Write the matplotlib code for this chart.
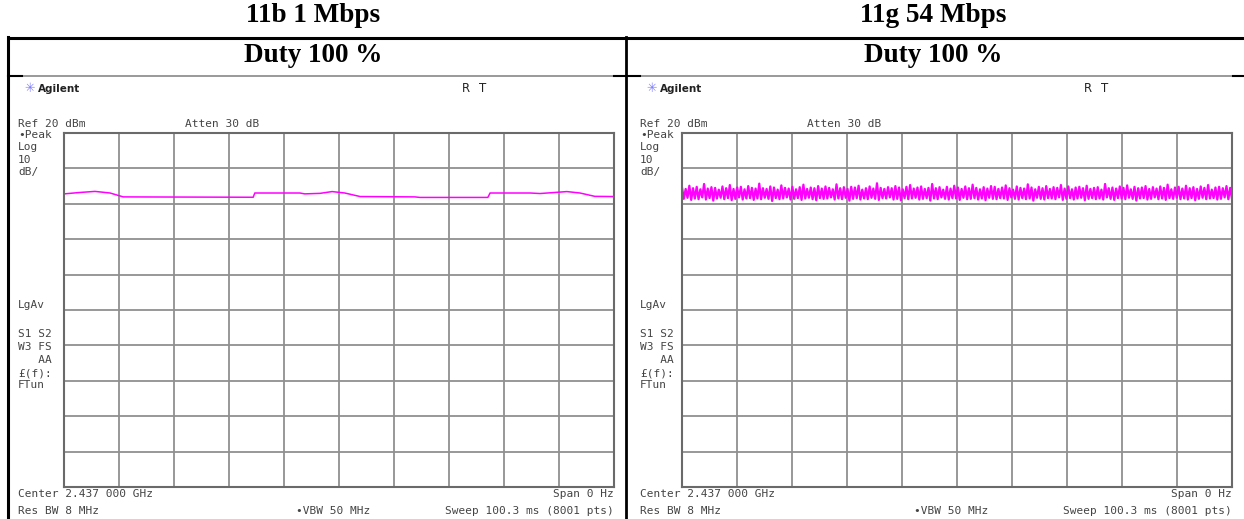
import matplotlib
matplotlib.use("Agg")
import matplotlib.pyplot as plt
import numpy as np

W, H = 1244, 519

# --- data (zero span, time domain) ---
SWEEP_MS = 100.3
REF_DBM = 20
DB_PER_DIV = 10

titles = ["11b 1 Mbps", "11g 54 Mbps"]
duty = ["Duty 100 %", "Duty 100 %"]

# 11b trace: piecewise level with a little hump after each step
b_time = [0, 2.9, 5.65, 8.4, 10.8, 34.5, 34.8, 43.0, 43.9, 46.7, 48.9, 51.2,
          54.0, 64.0, 64.9, 77.3, 77.7, 85.0, 86.8, 89.5, 91.7, 94.1, 96.8, 100.3]
b_level = [2.8, 3.2, 3.5, 3.05, 1.95, 1.85, 3.05, 3.05, 2.8, 2.95, 3.45, 3.05,
           2.05, 1.95, 1.8, 1.8, 3.05, 3.05, 2.9, 3.2, 3.45, 3.05, 2.1, 2.05]

# 11g trace: noisy band, peaks and troughs estimated along the sweep
g_peaks = [
    4.6, 4.2, 5.1, 4.4, 4.8, 4.1, 5.6, 4.3, 4.7, 4.5,
    4.0, 4.9, 4.4, 5.3, 4.2, 4.6, 4.8, 4.1, 5.0, 4.5,
    4.3, 5.7, 4.4, 4.2, 4.9, 4.6, 4.0, 5.2, 4.5, 4.3,
    4.8, 4.1, 4.7, 5.4, 4.2, 4.6, 4.4, 5.0, 4.3, 4.9,
    4.5, 4.1, 5.5, 4.4, 4.7, 4.2, 4.8, 4.6, 5.1, 4.0,
    4.4, 4.9, 4.3, 5.8, 4.5, 4.2, 4.7, 4.4, 5.0, 4.6,
    4.1, 4.8, 5.3, 4.3, 4.6, 4.9, 4.2, 4.5, 5.6, 4.4,
    4.7, 4.0, 4.8, 4.3, 5.1, 4.6, 4.2, 4.9, 4.4, 5.4,
    4.5, 4.1, 4.7, 4.3, 5.0, 4.8, 4.2, 4.6, 5.2, 4.4,
    4.0, 4.9, 4.5, 4.3, 5.5, 4.6, 4.1, 4.8, 4.4, 5.0,
    4.2, 4.7, 4.5, 5.3, 4.3, 4.9, 4.1, 4.6, 4.8, 4.4,
    5.1, 4.2, 4.5, 4.7, 4.0, 5.6, 4.4, 4.6, 4.3, 4.9,
    4.5, 5.2, 4.1, 4.8, 4.4, 4.6, 5.0, 4.2, 4.7, 4.3,
    4.9, 4.5, 5.4, 4.1, 4.6, 4.8, 4.3, 5.1, 4.4, 4.7,
    4.2, 4.9, 4.5, 5.3, 4.0, 4.6, 4.8, 4.4, 5.0, 4.5,
]
g_troughs = [
    1.4, 1.7, 1.1, 1.5, 1.3, 1.8, 1.2, 1.6, 0.9, 1.5,
    1.7, 1.3, 1.6, 1.0, 1.4, 1.8, 1.2, 1.5, 1.6, 1.1,
    1.5, 1.3, 1.7, 1.4, 0.8, 1.6, 1.3, 1.5, 1.8, 1.2,
    1.4, 1.6, 1.1, 1.5, 1.7, 1.3, 1.0, 1.6, 1.4, 1.5,
    1.8, 1.2, 1.5, 1.3, 1.7, 0.9, 1.4, 1.6, 1.2, 1.5,
    1.3, 1.7, 1.4, 1.1, 1.6, 1.5, 1.8, 1.2, 1.4, 1.0,
    1.6, 1.3, 1.5, 1.7, 1.2, 1.4, 1.6, 0.9, 1.5, 1.3,
    1.8, 1.4, 1.2, 1.6, 1.5, 1.1, 1.7, 1.3, 1.4, 1.6,
    1.2, 1.5, 1.0, 1.7, 1.4, 1.3, 1.6, 1.5, 1.1, 1.8,
    1.4, 1.2, 1.6, 1.3, 1.5, 0.9, 1.7, 1.4, 1.2, 1.6,
    1.5, 1.3, 1.8, 1.1, 1.4, 1.6, 1.2, 1.5, 1.7, 1.0,
    1.4, 1.6, 1.3, 1.5, 1.2, 1.8, 1.4, 1.1, 1.6, 1.5,
    1.3, 1.7, 1.4, 0.9, 1.5, 1.6, 1.2, 1.4, 1.8, 1.3,
    1.5, 1.1, 1.6, 1.4, 1.7, 1.3, 1.5, 1.2, 1.6, 1.0,
    1.4, 1.7, 1.3, 1.5, 1.6, 1.2, 1.4, 1.8, 1.3, 1.5,
]

# --- layout in pixels ---
PANEL_X = [0, 618]           # horizontal offset of each panel
GRID_L, GRID_R = 64, 614     # grid box of left panel
GRID_T, GRID_B = 133, 487
TXT = "#444444"
MONO = "DejaVu Sans Mono"

fig = plt.figure(figsize=(W / 100, H / 100), dpi=100)
base = fig.add_axes([0, 0, 1, 1])
base.set_xlim(0, W)
base.set_ylim(H, 0)
base.axis("off")

# table frame
base.plot([8, W], [37.5, 37.5], color="black", lw=2.2, solid_capstyle="butt")
base.plot([8, W], [75.5, 75.5], color="#888888", lw=1.2)
for x0, x1 in [(8, 22), (614, 640), (1233, W)]:
    base.plot([x0, x1], [75.5, 75.5], color="black", lw=1.5)
base.plot([8, 8], [36.5, H], color="black", lw=2.2)
base.plot([626, 626], [36.5, H], color="black", lw=2.0)


def label(x, y, s, **kw):
    opts = dict(fontsize=8, family=MONO, color=TXT, va="center", ha="left")
    opts.update(kw)
    base.text(x, y, s, **opts)


for i, ox in enumerate(PANEL_X):
    cx = 313 + i * 620
    base.text(cx, 15, titles[i], ha="center", va="center", fontsize=19.5,
              fontweight="bold", family="Liberation Serif", color="black")
    base.text(cx, 56, duty[i], ha="center", va="center", fontsize=19.5,
              fontweight="bold", family="Liberation Serif", color="black")

    tx = ox + 18 + i * 4
    gr = GRID_R + ox
    label(tx + 6, 89, "\u2733", family="DejaVu Sans", color="#8080ff", fontsize=9)
    label(tx + 20, 89, "Agilent", family="DejaVu Sans", fontweight="bold",
          color="#222222", fontsize=7.5)
    label(ox + 462 + i * 4, 89, "R", family="DejaVu Sans", color="#222222", fontsize=8.5)
    label(ox + 479 + i * 4, 89, "T", family="DejaVu Sans", color="#222222", fontsize=8.5)
    label(tx, 124, "Ref 20 dBm")
    label(tx + 167, 124, "Atten 30 dB")
    for y, s in [(135, "\u2022Peak"), (147, "Log"), (160, "10"), (172, "dB/"),
                 (305, "LgAv"), (334, "S1 S2"), (347, "W3 FS"), (360, "   AA"),
                 (373, "\u00a3(f):"), (385, "FTun")]:
        label(tx, y, s)
    label(tx, 494, "Center 2.437 000 GHz")
    label(gr, 494, "Span 0 Hz", ha="right")
    label(tx, 511, "Res BW 8 MHz")
    label(ox + 296, 511, "\u2022VBW 50 MHz")
    label(gr, 511, "Sweep 100.3 ms (8001 pts)", ha="right")

# --- analyzer grids ---
axes = []
for ox in PANEL_X:
    ax = fig.add_axes([(GRID_L + ox) / W, (H - GRID_B) / H,
                       (GRID_R - GRID_L) / W, (GRID_B - GRID_T) / H])
    ax.set_xlim(0, SWEEP_MS)
    ax.set_ylim(REF_DBM - 10 * DB_PER_DIV, REF_DBM)
    ax.set_xticks(np.linspace(0, SWEEP_MS, 11))
    ax.set_yticks(np.arange(REF_DBM - 10 * DB_PER_DIV, REF_DBM + 1, DB_PER_DIV))
    ax.tick_params(length=0, labelbottom=False, labelleft=False)
    ax.grid(True, color="#909090", lw=1.3)
    ax.set_axisbelow(True)
    for sp in ax.spines.values():
        sp.set_color("#6a6a6a")
        sp.set_linewidth(1.5)
    ax.patch.set_alpha(0)
    axes.append(ax)

axes[0].plot(b_time, b_level, color="#ff00ff", lw=1.1)

g_vals = np.ravel(np.column_stack([g_peaks, g_troughs]))
g_time = np.linspace(0, SWEEP_MS, len(g_vals))
axes[1].plot(g_time, g_vals, color="#ff00ff", lw=1.6)

fig.savefig("out.png", dpi=100)
